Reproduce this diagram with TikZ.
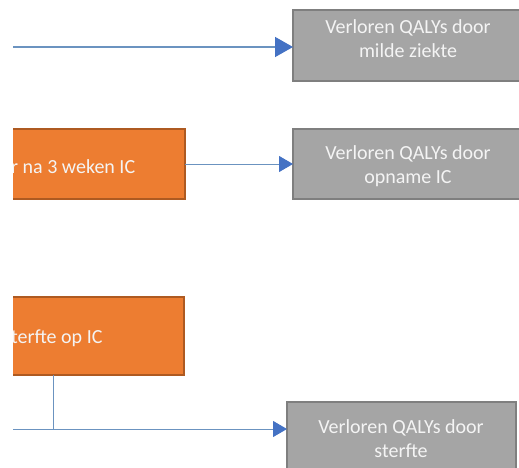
\documentclass[tikz,border=0pt]{standalone}
\usepackage{fontspec}
\setmainfont{Carlito}
\usetikzlibrary{arrows.meta}
\definecolor{grayfill}{HTML}{A5A5A5}
\definecolor{grayedge}{HTML}{7F7F7F}
\definecolor{orfill}{HTML}{ED7D31}
\definecolor{oredge}{HTML}{AE5A21}
\definecolor{linec}{HTML}{6B93C0}
\definecolor{arrc}{HTML}{4472C4}
\definecolor{txt}{HTML}{F4F4F4}
\tikzset{
  graybox/.style={draw=grayedge, line width=1.2pt, fill=grayfill},
  orbox/.style={draw=oredge, line width=1.2pt, fill=orfill},
  boxtext/.style={text=txt, font=\fontsize{20}{24}\selectfont, align=center, inner sep=0pt},
  conn/.style={draw=linec, line width=1pt},
  tip/.style={-{Triangle[length=14pt,width=16pt,color=arrc]}},
}
\begin{document}
\begin{tikzpicture}[x=1pt,y=-1pt]
\useasboundingbox (0,0) rectangle (519,468);
\begin{scope}
\clip (13,0) rectangle (519,468);
% gray boxes
\draw[graybox] (293,10) rectangle (530,81);
\node[boxtext] (g1) at (408,39) {Verloren QALYs door\\milde ziekte};
\coordinate (g1w) at (293,47);
\draw[graybox] (293,129) rectangle (530,199);
\node[boxtext] (g2) at (408,166) {Verloren QALYs door\\opname IC};
\coordinate (g2w) at (293,164);
\draw[graybox] (287,402) rectangle (516,480);
\node[boxtext] (g3) at (401,439) {Verloren QALYs door\\sterfte};
\coordinate (g3w) at (287,429);
% orange boxes
\draw[orbox] (-20,129) rectangle (185,199);
\node[boxtext, anchor=west] (o2) at (11,167) {r na 3 weken IC};
\coordinate (o2e) at (185,164);
\draw[orbox] (-20,297) rectangle (184,375);
\node[boxtext, anchor=west] (o3) at (11,338) {terfte op IC};
\coordinate (o3s) at (53,375);
% connectors
\coordinate (s1) at (13,47);
\coordinate (s3) at (13,429);
\coordinate (j3) at (53,429);
\draw[conn, line width=1.5pt, {Triangle[length=18pt,width=20pt,color=arrc]}-] (g1w) -- (s1);
\draw[conn, tip] (o2e) -- (g2w);
\draw[conn] (o3s) -- (j3);
\draw[conn, tip] (s3) -- (g3w);
\end{scope}
\end{tikzpicture}
\end{document}
